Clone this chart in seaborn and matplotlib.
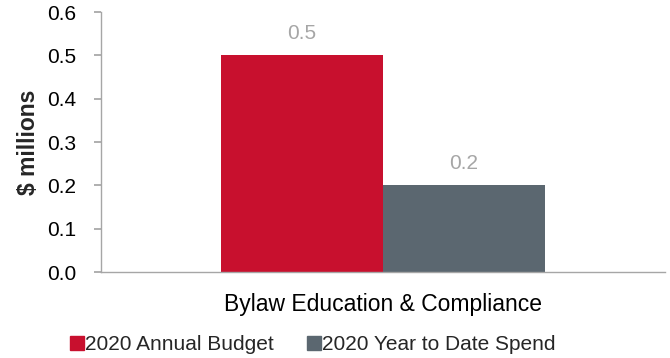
import pandas as pd
import matplotlib
matplotlib.use("Agg")
import matplotlib.pyplot as plt
import seaborn as sns
from matplotlib.lines import Line2D

# Data
categories = ["Bylaw Education & Compliance"]
series_names = ["2020 Annual Budget", "2020 Year to Date Spend"]
budget = [0.5]
ytd_spend = [0.2]
colors = ["#C8102E", "#5B6770"]

df = pd.DataFrame({
    "Program": categories * 2,
    "Series": [series_names[0]] * len(budget) + [series_names[1]] * len(ytd_spend),
    "Value": budget + ytd_spend,
})

sns.set_theme(style="white")
plt.rcParams["font.family"] = ["Liberation Sans", "DejaVu Sans"]

fig, ax = plt.subplots(figsize=(6.7, 3.58), dpi=100)
fig.subplots_adjust(left=101 / 670, right=665 / 670, top=1 - 12 / 358, bottom=1 - 272 / 358)

sns.barplot(data=df, x="Program", y="Value", hue="Series", palette=colors,
            width=0.574, saturation=1, linewidth=0, ax=ax, legend=False)

for c in ax.containers:
    ax.bar_label(c, fmt="%.1f", padding=9, color="#A6A6A6", fontsize=15)

ax.set_ylim(0, 0.6)
ax.set_yticks([0.0, 0.1, 0.2, 0.3, 0.4, 0.5, 0.6])
ax.set_yticklabels([f"{v:.1f}" for v in ax.get_yticks()])
ax.set_xlim(-0.5, 0.5)
ax.set_xlabel("")
ax.set_ylabel("$ millions", fontsize=16.5, fontweight="bold", labelpad=5)

for side in ["top", "right"]:
    ax.spines[side].set_visible(False)
for side in ["left", "bottom"]:
    ax.spines[side].set_color("#A6A6A6")
    ax.spines[side].set_linewidth(1)

ax.tick_params(axis="y", left=True, length=5, color="#A6A6A6", labelsize=15, labelcolor="black", pad=13)
ax.tick_params(axis="x", length=0, labelsize=16.5, labelcolor="black", pad=15)

handles = [Line2D([], [], marker="s", linestyle="", markersize=9.5, color=col) for col in colors]
fig.legend(handles, series_names, loc="center", bbox_to_anchor=(312 / 670, 1 - 345 / 358),
           ncol=2, frameon=False, fontsize=15, handletextpad=0.0, columnspacing=1.5,
           handlelength=0.8, borderpad=0, borderaxespad=0)

fig.savefig("out.png", dpi=100)
